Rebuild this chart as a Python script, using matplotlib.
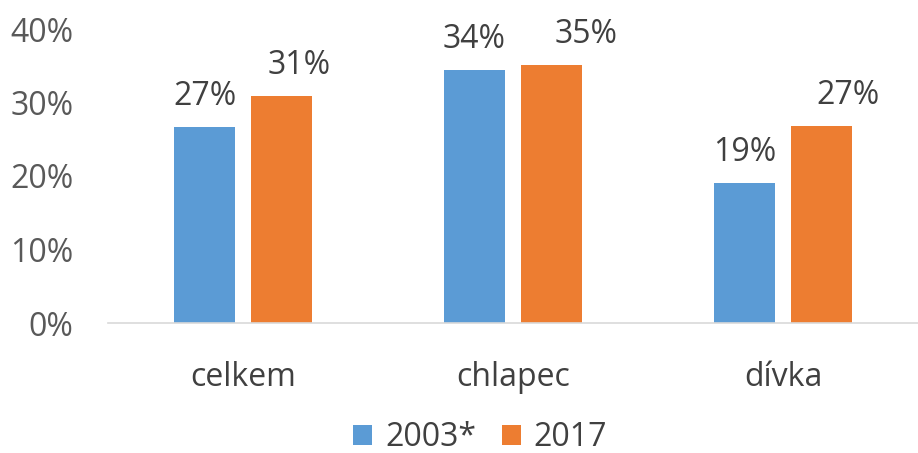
import matplotlib
matplotlib.use("Agg")
import matplotlib.pyplot as plt
import numpy as np

categories = ["celkem", "chlapec", "dívka"]
series_2003 = [26.7, 34.4, 19.0]
series_2017 = [30.9, 35.1, 26.8]
labels_2003 = ["27%", "34%", "19%"]
labels_2017 = ["31%", "35%", "27%"]
# horizontal shift of the 2017 labels (points), as placed in the original
shift_2017 = [13, 25, 19]

blue = "#5b9bd5"
orange = "#ed7d31"
text_col = "#595959"

plt.rcParams["font.family"] = ["Open Sans", "DejaVu Sans"]

fig = plt.figure(figsize=(9.18, 4.53), dpi=100)
ax = fig.add_axes([108 / 918, 130 / 453, 810 / 918, 294 / 453])

x = np.arange(len(categories))
w = 0.226
gap = 0.059
b1 = ax.bar(x - (w + gap) / 2, series_2003, w, color=blue, label="2003*")
b2 = ax.bar(x + (w + gap) / 2, series_2017, w, color=orange, label="2017")

for rect, lab in zip(b1, labels_2003):
    ax.annotate(lab, (rect.get_x() + rect.get_width() / 2, rect.get_height()),
                xytext=(0, 16), textcoords="offset points", ha="center", va="baseline",
                fontsize=23, color="#404040")
for rect, lab, dx in zip(b2, labels_2017, shift_2017):
    ax.annotate(lab, (rect.get_x() + rect.get_width() / 2, rect.get_height()),
                xytext=(dx, 16), textcoords="offset points", ha="center", va="baseline",
                fontsize=23, color="#404040")

ax.set_xlim(-0.5, 2.5)
ax.set_ylim(0, 40)
ax.set_yticks([0, 10, 20, 30, 40])
ax.set_yticklabels(["0%", "10%", "20%", "30%", "40%"])
ax.set_xticks(x)
ax.set_xticklabels(categories)
ax.tick_params(axis="y", length=0, pad=25, labelsize=23, labelcolor=text_col)
ax.tick_params(axis="x", length=0, pad=27, labelsize=23, labelcolor="#404040")

for s in ["top", "right", "left"]:
    ax.spines[s].set_visible(False)
ax.spines["bottom"].set_color("#d9d9d9")
ax.spines["bottom"].set_linewidth(1.2)

fig.legend(loc="center", bbox_to_anchor=(480 / 918, 15 / 453), ncol=2, frameon=False,
           fontsize=23, labelcolor="#404040", handlelength=0.6, handleheight=0.6,
           handletextpad=0.4, columnspacing=0.8)

fig.savefig("out.png", dpi=100)
